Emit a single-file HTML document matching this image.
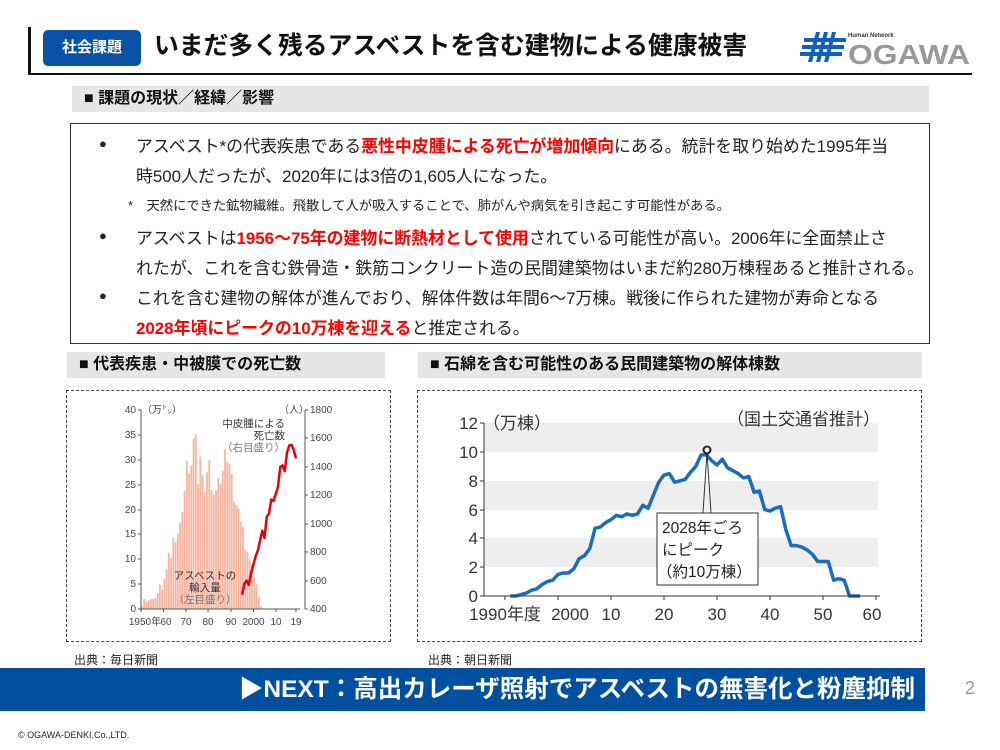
<!DOCTYPE html>
<html><head><meta charset="utf-8">
<style>
*{margin:0;padding:0;box-sizing:border-box}
body{width:1000px;height:750px;background:#fff;position:relative;overflow:hidden;font-family:"Liberation Sans","Noto Sans CJK JP",sans-serif;color:#222}
.abs{position:absolute}
.hdr{background:#e7e6e6;font-weight:bold;font-size:16px;line-height:26px;padding-left:12px;color:#111;white-space:nowrap}
.tx{position:absolute;left:136px;font-size:16.9px;white-space:nowrap;color:#222}
.bl{position:absolute;left:99px;font-size:13px}
.r{color:#f00;font-weight:bold}
</style></head><body>
<div class="abs" style="left:28px;top:27px;width:3px;height:47px;background:#111"></div>
<div class="abs" style="left:28px;top:73px;width:944px;height:1.5px;background:#111"></div>
<div class="abs" style="left:43px;top:30px;width:98px;height:36px;background:#0a52a6;border-radius:5px;color:#fff;font-weight:bold;font-size:15px;line-height:36px;text-align:center">社会課題</div>
<div class="abs" style="left:154px;top:30px;font-size:24.8px;line-height:34px;font-weight:bold;color:#111;white-space:nowrap">いまだ多く残るアスベストを含む建物による健康被害</div>
<svg class="abs" style="left:800px;top:28px" width="175" height="40">
 <g fill="#1060c0"><rect x="4" y="10" width="42" height="4"/><rect x="2" y="17" width="42" height="4"/><rect x="0" y="24" width="42" height="4"/>
 <polygon points="16,4 20,4 12,34 8,34"/><polygon points="24,4 28,4 20,34 16,34"/><polygon points="32,4 36,4 28,34 24,34"/></g>
 <text x="48" y="9" font-size="6" font-weight="bold" fill="#333" font-family="Liberation Sans">Human Network</text>
 <text x="48" y="36" font-size="28" font-weight="bold" fill="#999" font-family="Liberation Sans" textLength="122" lengthAdjust="spacingAndGlyphs">OGAWA</text>
</svg>
<div class="abs hdr" style="left:72px;top:86px;width:857px">■ 課題の現状／経緯／影響</div>
<div class="abs" style="left:70px;top:123px;width:860px;height:221px;border:1px solid #333"></div>
<div class="bl" style="top:136px">●</div>
<div class="tx" style="top:132px">アスベスト*の代表疾患である<span class="r">悪性中皮腫による死亡が増加傾向</span>にある。統計を取り始めた1995年当</div>
<div class="tx" style="top:162px">時500人だったが、2020年には3倍の1,605人になった。</div>
<div class="tx" style="top:195px;left:128px;font-size:13.3px">*　天然にできた鉱物繊維。飛散して人が吸入することで、肺がんや病気を引き起こす可能性がある。</div>
<div class="bl" style="top:228px">●</div>
<div class="tx" style="top:224px">アスベストは<span class="r">1956～75年の建物に断熱材として使用</span>されている可能性が高い。2006年に全面禁止さ</div>
<div class="tx" style="top:254px">れたが、これを含む鉄骨造・鉄筋コンクリート造の民間建築物はいまだ約280万棟程あると推計される。</div>
<div class="bl" style="top:288px">●</div>
<div class="tx" style="top:284px">これを含む建物の解体が進んでおり、解体件数は年間6～7万棟。戦後に作られた建物が寿命となる</div>
<div class="tx" style="top:314px"><span class="r">2028年頃にピークの10万棟を迎える</span>と推定される。</div>
<div class="abs hdr" style="left:67px;top:352px;width:318px">■ 代表疾患・中被膜での死亡数</div>
<div class="abs hdr" style="left:418px;top:352px;width:504px">■ 石綿を含む可能性のある民間建築物の解体棟数</div>
<div class="abs" style="left:66px;top:390px;width:325px;height:252px;border:1.5px dashed #444"></div>
<div class="abs" style="left:417px;top:390px;width:505px;height:252px;border:1.5px dashed #444"></div>
<svg class="abs" style="left:0;top:0" width="1000" height="750" font-family="Liberation Sans,Noto Sans CJK JP,sans-serif">
 <g transform="translate(141,609) scale(2.246,-4.975)" fill="#f5b5a0">
  <rect x="0" width="0.8" height="0.5"/><rect x="1" width="0.8" height="2"/><rect x="2" width="0.8" height="1.5"/><rect x="3" width="0.8" height="1.8"/><rect x="4" width="0.8" height="2"/><rect x="5" width="0.8" height="2"/><rect x="6" width="0.8" height="2.2"/><rect x="7" width="0.8" height="3.2"/><rect x="8" width="0.8" height="4.9"/><rect x="9" width="0.8" height="4"/>
  <rect x="10" width="0.8" height="6"/><rect x="11" width="0.8" height="8"/><rect x="12" width="0.8" height="11.3"/><rect x="13" width="0.8" height="10.3"/><rect x="14" width="0.8" height="14.3"/><rect x="15" width="0.8" height="13.5"/><rect x="16" width="0.8" height="15.2"/><rect x="17" width="0.8" height="17.3"/><rect x="18" width="0.8" height="19.5"/><rect x="19" width="0.8" height="23.7"/>
  <rect x="20" width="0.8" height="29.8"/><rect x="21" width="0.8" height="27.3"/><rect x="22" width="0.8" height="28.8"/><rect x="23" width="0.8" height="34.3"/><rect x="24" width="0.8" height="35.1"/><rect x="25" width="0.8" height="25.1"/><rect x="26" width="0.8" height="30.6"/><rect x="27" width="0.8" height="26.9"/><rect x="28" width="0.8" height="23.5"/><rect x="29" width="0.8" height="27.5"/>
  <rect x="30" width="0.8" height="29.9"/><rect x="31" width="0.8" height="23.9"/><rect x="32" width="0.8" height="23.0"/><rect x="33" width="0.8" height="23.8"/><rect x="34" width="0.8" height="26.3"/><rect x="35" width="0.8" height="25.2"/><rect x="36" width="0.8" height="27.7"/><rect x="37" width="0.8" height="32.1"/><rect x="38" width="0.8" height="29.6"/><rect x="39" width="0.8" height="29.2"/>
  <rect x="40" width="0.8" height="27.2"/><rect x="41" width="0.8" height="21.6"/><rect x="42" width="0.8" height="20.9"/><rect x="43" width="0.8" height="20.2"/><rect x="44" width="0.8" height="17.5"/><rect x="45" width="0.8" height="16.5"/><rect x="46" width="0.8" height="12"/><rect x="47" width="0.8" height="11.6"/><rect x="48" width="0.8" height="10"/><rect x="49" width="0.8" height="9"/>
  <rect x="50" width="0.8" height="6.5"/><rect x="51" width="0.8" height="5"/><rect x="52" width="0.8" height="2.5"/><rect x="53" width="0.8" height="0.5"/>
 </g>
 <polyline transform="translate(141,609) scale(2.246,-0.14214)" vector-effect="non-scaling-stroke" fill="none" stroke="#e8000a" stroke-width="2.5" stroke-linejoin="round" points="45,100 46,175 47,200 48,170 49,250 50,310 51,370 52,410 53,480 54,550 55,500 56,650 57,670 58,770 59,760 60,810 61,860 62,1000 63,1010 64,970 65,1100 66,1150 67,1155 68,1120 69,1060"/>
 <g stroke="#555" stroke-width="1" fill="none">
  <path d="M141,410V609H300M305,410V609"/>
  <path d="M138,410h3M138,435h3M138,460h3M138,485h3M138,510h3M138,534h3M138,559h3M138,584h3M138,609h3"/>
  <path d="M305,410h3M305,438h3M305,467h3M305,495h3M305,524h3M305,552h3M305,581h3M305,609h3"/>
  <path d="M141,609v3M163.5,609v3M186,609v3M208,609v3M231,609v3M253.5,609v3M276,609v3M296,609v3"/>
 </g>
 <g font-size="10" fill="#444" text-anchor="end">
  <text x="136" y="413">40</text><text x="136" y="438">35</text><text x="136" y="463">30</text><text x="136" y="488">25</text><text x="136" y="513">20</text><text x="136" y="537">15</text><text x="136" y="562">10</text><text x="136" y="587">5</text><text x="136" y="612">0</text>
 </g>
 <g font-size="10" fill="#444">
  <text x="310" y="413">1800</text><text x="310" y="441">1600</text><text x="310" y="470">1400</text><text x="310" y="498">1200</text><text x="310" y="527">1000</text><text x="310" y="555">800</text><text x="310" y="584">600</text><text x="310" y="612">400</text>
  <text x="142" y="413">（万㌧）</text><text x="279" y="413">（人）</text>
 </g>
 <g font-size="10" fill="#444" text-anchor="middle">
  <text x="145" y="625">1950年</text><text x="166" y="625">60</text><text x="186" y="625">70</text><text x="208" y="625">80</text><text x="231" y="625">90</text><text x="253.5" y="625">2000</text><text x="276" y="625">10</text><text x="296" y="625">19</text>
 </g>
 <g font-size="10.5" fill="#333" text-anchor="end">
  <text x="285" y="427">中皮腫による</text><text x="285" y="439">死亡数</text><text x="285" y="451" fill="#777">（右目盛り）</text>
 </g>
 <g font-size="10.5" fill="#333" text-anchor="middle">
  <text x="205" y="579">アスベストの</text><text x="205" y="591">輸入量</text><text x="205" y="603" fill="#777">（左目盛り）</text>
 </g>
 <rect x="484" y="423" width="394" height="29" fill="#eee"/>
 <rect x="484" y="481" width="394" height="29" fill="#eee"/>
 <rect x="484" y="538" width="394" height="29" fill="#eee"/>
 <polyline transform="translate(558,596) scale(5.3,-14.4)" vector-effect="non-scaling-stroke" fill="none" stroke="#1a6bc2" stroke-width="3.5" stroke-linejoin="round" points="-9,0 -8,0 -7,0.1 -6,0.2 -5,0.4 -4,0.5 -3,0.8 -2,1 -1,1.1 0,1.5 1,1.6 2,1.6 3,1.9 4,2.6 5,2.8 6,3.3 7,4.7 8,4.8 9,5.1 10,5.3 11,5.6 12,5.5 13,5.7 14,5.6 15,5.7 16,6.3 17,6.1 18,7 19,7.9 20,8.4 21,8.5 22,7.9 23,8 24,8.1 25,8.6 26,9 27,9.8 28,9.8 29,9.4 30,9.1 31,9.5 32,8.9 33,8.7 34,8.5 35,8.2 36,8.3 37,7.2 38,7.3 39,6 40,5.9 41,6.1 42,6.2 43,4.6 44,3.5 45,3.5 46,3.4 47,3.2 48,2.9 49,2.4 50,2.4 51,2.4 52,1.1 53,1.2 54,1.1 55,0 56,0 57,0"/>
 <g stroke="#333" stroke-width="1" fill="none">
  <path d="M484,423V596H880"/>
  <path d="M480,423h4M480,452h4M480,481h4M480,510h4M480,538h4M480,567h4M480,596h4"/>
  <path d="M505,596v4M558,596v4M611,596v4M664,596v4M717,596v4M770,596v4M823,596v4M876,596v4"/>
  <path d="M703,513L707,452L711,513"/>
 </g>
 <circle cx="707" cy="450" r="3.5" fill="#fff" stroke="#222" stroke-width="2"/>
 <rect x="657" y="513" width="101" height="72" fill="#fff" stroke="#333" stroke-width="1"/>
 <g font-size="15.5" fill="#222">
  <text x="662" y="533">2028年ごろ</text><text x="662" y="555">にピーク</text><text x="657" y="577">（約10万棟）</text>
 </g>
 <g font-size="17" fill="#333" text-anchor="end">
  <text x="478" y="429">12</text><text x="478" y="458">10</text><text x="478" y="487">8</text><text x="478" y="516">6</text><text x="478" y="544">4</text><text x="478" y="573">2</text><text x="478" y="602">0</text>
 </g>
 <text x="483" y="429" font-size="17" fill="#333">（万棟）</text>
 <text x="880" y="425" font-size="17" fill="#333" text-anchor="end">（国土交通省推計）</text>
 <g font-size="17" fill="#333" text-anchor="middle">
  <text x="505" y="620">1990年度</text><text x="570" y="620">2000</text><text x="611" y="620">10</text><text x="664" y="620">20</text><text x="717" y="620">30</text><text x="770" y="620">40</text><text x="823" y="620">50</text><text x="872" y="620">60</text>
 </g>
</svg>
<div class="abs" style="left:74px;top:651px;font-size:12px">出典：毎日新聞</div>
<div class="abs" style="left:428px;top:651px;font-size:12px">出典：朝日新聞</div>
<div class="abs" style="left:0;top:668px;width:925px;height:43px;background:#00509f;color:#fff;font-weight:bold;font-size:24.5px;line-height:43px;text-align:right;padding-right:10px;white-space:nowrap">▶NEXT：高出カレーザ照射でアスベストの無害化と粉塵抑制</div>
<div class="abs" style="left:965px;top:678px;font-size:18px;color:#999">2</div>
<div class="abs" style="left:18px;top:730px;font-size:9px;color:#222">© OGAWA-DENKI.Co.,LTD.</div>
</body></html>
